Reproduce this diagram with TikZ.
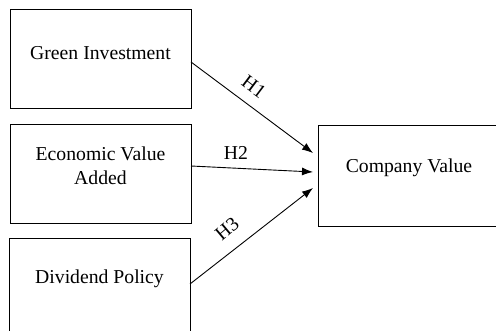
\documentclass[tikz,border=0pt]{standalone}
\usepackage{fontspec}
\setmainfont{Liberation Serif}
\usetikzlibrary{arrows.meta}
\begin{document}
\begin{tikzpicture}[x=1pt,y=-1pt,
  varbox/.style={draw,line width=0.9pt,inner sep=0pt},
  vartext/.style={font=\fontsize{19.7}{24}\selectfont,align=center,inner sep=0pt},
  hyp/.style={font=\fontsize{19.7}{24}\selectfont,inner sep=0pt},
  link/.style={line width=0.9pt,-{Latex[length=11pt,width=8pt]}}]
\useasboundingbox (0,0) rectangle (496,331);
% variable boxes
\node[varbox,minimum width=181pt,minimum height=99pt] (gi) at (100.5,59) {};
\node[varbox,minimum width=181pt,minimum height=99pt] (eva) at (100.5,173.5) {};
\node[varbox,minimum width=181pt,minimum height=110pt] (dp) at (99.5,293) {};
\node[varbox,minimum width=182pt,minimum height=101pt] (cv) at (409,175.5) {};
% box captions
\node[vartext] (gitxt) at (100.5,53) {Green Investment};
\node[vartext] (evatxt) at (100.5,166) {Economic Value\\Added};
\node[vartext] (dptxt) at (99.5,279) {Dividend Policy};
\node[vartext] (cvtxt) at (409,168) {Company Value};
% arrow end points
\coordinate (s1) at (191,62);
\coordinate (s2) at (191,166);
\coordinate (s3) at (190,284);
\coordinate (e1) at (313,153);
\coordinate (e2) at (313,172);
\coordinate (e3) at (313,188);
\draw[link] (s1) -- (e1);
\draw[link] (s2) -- (e2);
\draw[link] (s3) -- (e3);
% hypothesis labels
\node[hyp,rotate=-37] (h1) at (254,87) {H1};
\node[hyp] (h2) at (236,153) {H2};
\node[hyp,rotate=40] (h3) at (227,229) {H3};
\end{tikzpicture}
\end{document}
